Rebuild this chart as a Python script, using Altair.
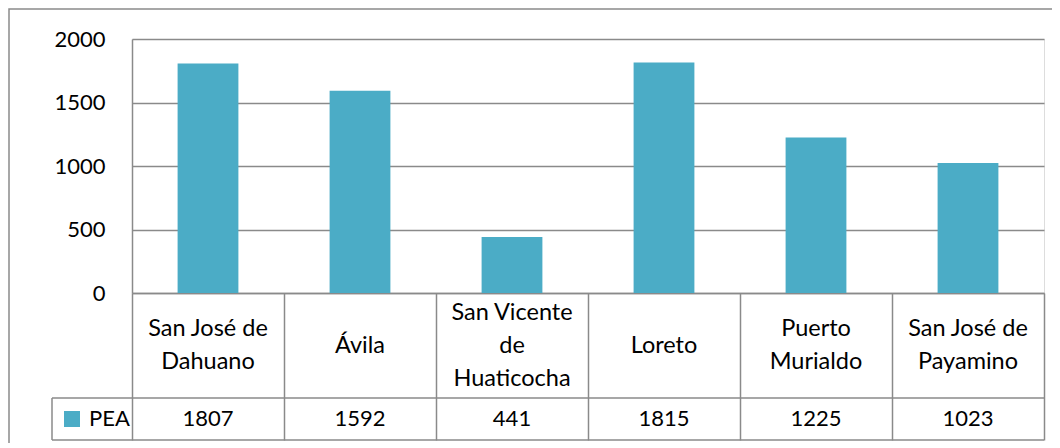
import altair as alt
import pandas as pd

categories = ["San José de Dahuano", "Ávila", "San Vicente de Huaticocha",
              "Loreto", "Puerto Murialdo", "San José de Payamino"]
label_text = ["San José de\nDahuano", "Ávila", "San Vicente\nde\nHuaticocha",
              "Loreto", "Puerto\nMurialdo", "San José de\nPayamino"]
pea_values = [1807, 1592, 441, 1815, 1225, 1023]
series_name = "PEA"
y_ticks = [0, 500, 1000, 1500, 2000]

df = pd.DataFrame({
    "cat": categories,
    "label": label_text,
    "value": pea_values,
    "series": [series_name] * len(categories),
})
df["nlines"] = [s.count("\n") + 1 for s in label_text]

GRID = "#8A8A8A"
BAR = "#4BACC6"
FONT = "Lato"
FS = 22
FS_CAT = 23.5
LH = 33
W, H = 912, 254
ROW1, ROW2 = 105, 42
LEFT_CELL = 80

x_enc = alt.X(
    "cat:N", sort=categories,
    scale=alt.Scale(paddingInner=0, paddingOuter=0),
    axis=alt.Axis(labels=False, title=None, tickBand="extent",
                  tickSize=ROW1 + ROW2, tickColor=GRID, tickWidth=1.5,
                  domainColor=GRID, domainWidth=1.5),
)

bars = alt.Chart(df).mark_bar(width=alt.RelativeBandSize(0.4)).encode(
    x=x_enc,
    y=alt.Y("value:Q", scale=alt.Scale(domain=[0, 2000]),
            axis=alt.Axis(values=y_ticks, title=None, ticks=False, format="d",
                          labelPadding=27, labelFont=FONT, labelFontSize=FS,
                          labelColor="black", gridColor=GRID, gridWidth=1.5,
                          domainColor=GRID, domainWidth=1.5)),
    color=alt.Color("series:N", scale=alt.Scale(range=[BAR]),
                    legend=alt.Legend(orient="none", legendX=-71, legendY=369,
                                      title=None, symbolType="square",
                                      symbolSize=256, symbolStrokeWidth=0,
                                      labelFont=FONT, labelFontSize=FS,
                                      labelColor="black", labelOffset=6,
                                      padding=0)),
)

cat_text = alt.Chart(df).transform_calculate(
    ty=f"{H + ROW1 / 2} - (datum.nlines - 1) * {LH / 2}"
).mark_text(
    lineBreak="\n", font=FONT, fontSize=FS_CAT, lineHeight=LH,
    baseline="middle", align="center", color="black"
).encode(x=x_enc, y=alt.Y("ty:Q", scale=None), text="label:N")

val_text = alt.Chart(df).mark_text(
    font=FONT, fontSize=FS, baseline="middle", align="center", color="black"
).encode(x=x_enc, y=alt.value(H + ROW1 + ROW2 / 2), text="value:Q")

one = alt.Data(values=[{"k": 1}])
line_mid = alt.Chart(one).mark_rule(color=GRID, strokeWidth=1.5).encode(
    x=alt.value(-LEFT_CELL), x2=alt.value(W), y=alt.value(H + ROW1))
line_bot = alt.Chart(one).mark_rule(color=GRID, strokeWidth=1.5).encode(
    x=alt.value(-LEFT_CELL), x2=alt.value(W), y=alt.value(H + ROW1 + ROW2))
line_left = alt.Chart(one).mark_rule(color=GRID, strokeWidth=1.5).encode(
    x=alt.value(-LEFT_CELL), y=alt.value(H + ROW1), y2=alt.value(H + ROW1 + ROW2))
outer = alt.Chart(one).mark_rect(fill=None, stroke=GRID, strokeWidth=1.5).encode(
    x=alt.value(-123), x2=alt.value(W + 40), y=alt.value(-30),
    y2=alt.value(H + ROW1 + ROW2 + 30))

chart = alt.layer(outer, bars, cat_text, val_text, line_mid, line_bot, line_left).properties(
    width=W, height=H,
    autosize=alt.AutoSizeParams(type="none"),
    padding={"left": 124, "top": 31, "right": 8, "bottom": 150},
).configure_view(stroke=None).configure(background="white")

chart.save("out.html", embed_options={"renderer": "svg", "actions": False})
